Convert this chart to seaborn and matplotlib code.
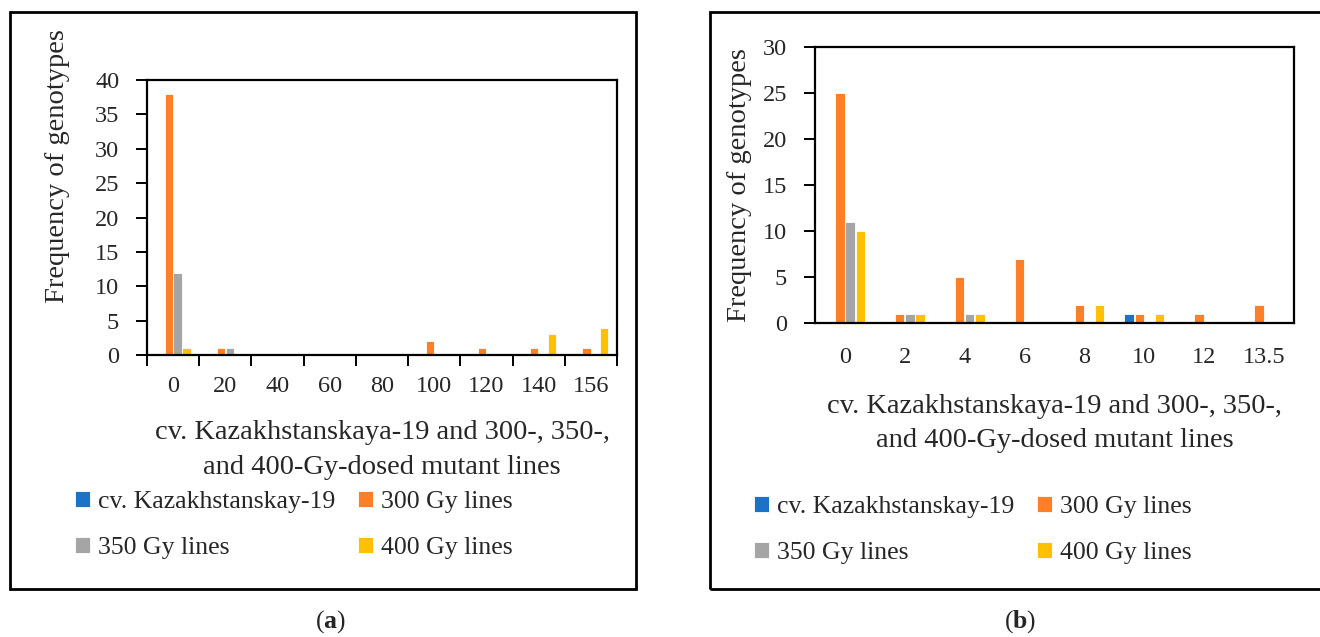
import numpy as np
import pandas as pd
import matplotlib
matplotlib.use("Agg")
import matplotlib.pyplot as plt
from matplotlib.patches import Rectangle
import seaborn as sns

# ---------------- data ----------------
series_names = ["cv. Kazakhstanskay-19", "300 Gy lines", "350 Gy lines", "400 Gy lines"]
colors = ["#1B72C6", "#FF7F27", "#A5A5A5", "#FFC000"]

cats_a = ["0", "20", "40", "60", "80", "100", "120", "140", "156"]
a_cv = [0, 0, 0, 0, 0, 0, 0, 0, 0]
a_300 = [38, 1, 0, 0, 0, 2, 1, 1, 1]
a_350 = [12, 1, 0, 0, 0, 0, 0, 0, 0]
a_400 = [1, 0, 0, 0, 0, 0, 0, 3, 4]

cats_b = ["0", "2", "4", "6", "8", "10", "12", "13.5"]
b_cv = [0, 0, 0, 0, 0, 1, 0, 0]
b_300 = [25, 1, 5, 7, 2, 1, 1, 2]
b_350 = [11, 1, 1, 0, 0, 0, 0, 0]
b_400 = [10, 1, 1, 0, 2, 1, 0, 0]

xlabel = "cv. Kazakhstanskaya-19 and 300-, 350-,\nand 400-Gy-dosed mutant lines"
ylabel = "Frequency of genotypes"


def long_df(cats, *series):
    rows = []
    for name, vals in zip(series_names, series):
        for c, v in zip(cats, vals):
            rows.append({"cat": c, "series": name, "value": v})
    return pd.DataFrame(rows)


df_a = long_df(cats_a, a_cv, a_300, a_350, a_400)
df_b = long_df(cats_b, b_cv, b_300, b_350, b_400)

# ---------------- style ----------------
sns.set_style("white")
plt.rcParams["font.family"] = ["Liberation Serif", "DejaVu Serif"]
plt.rcParams["mathtext.fontset"] = "custom"
plt.rcParams["mathtext.rm"] = "Liberation Serif"
plt.rcParams["mathtext.bf"] = "Liberation Serif:bold"
TICK_FS = 17.5
LAB_FS = 20.5
LEG_FS = 18.5

W, H = 1320, 637
fig = plt.figure(figsize=(W / 100, H / 100), dpi=100)
fig.patch.set_facecolor("white")


def px_axes(left, top, right, bottom):
    return fig.add_axes([left / W, 1 - bottom / H, (right - left) / W, (bottom - top) / H])


# outer panel frames
for x0, x1 in [(10, 636), (710, 1335)]:
    fig.patches.append(Rectangle((x0 / W, 1 - 589 / H), (x1 - x0) / W, (589 - 12) / H,
                                 transform=fig.transFigure, fill=False,
                                 edgecolor="black", linewidth=2.0, zorder=0))

palette = dict(zip(series_names, colors))


def draw(ax, df, cats, ymax, boundary_ticks, tickpad, labelpad):
    sns.barplot(data=df, x="cat", y="value", hue="series", order=cats,
                hue_order=series_names, palette=palette, saturation=1,
                width=0.68, gap=0.08, errorbar=None, edgecolor="white",
                linewidth=0.6, ax=ax, legend=True)
    ax.set_xlim(-0.5, len(cats) - 0.5)
    ax.set_ylim(0, ymax)
    ax.set_yticks(np.arange(0, ymax + 1, 5))
    for s in ax.spines.values():
        s.set_visible(True)
        s.set_color("black")
        s.set_linewidth(1.6)
    ax.tick_params(axis="y", which="major", direction="out", length=8, width=1.4,
                   color="black", labelsize=TICK_FS, pad=12, left=True)
    ax.tick_params(axis="x", which="major", length=0, labelsize=TICK_FS, pad=tickpad)
    if boundary_ticks:
        ax.set_xticks(np.arange(-0.5, len(cats), 1.0), minor=True)
        ax.tick_params(axis="x", which="minor", direction="out", length=8, width=1.4,
                       color="black", bottom=True)
    ax.set_xlabel(xlabel, fontsize=LAB_FS, linespacing=1.48, labelpad=labelpad)
    h, l = ax.get_legend_handles_labels()
    ax.get_legend().remove()
    return h, l


ax_a = px_axes(147, 80, 617, 355)
h, l = draw(ax_a, df_a, cats_a, 40, True, 15, 17)
ax_a.set_ylabel(ylabel, fontsize=LAB_FS, va="center")
ax_a.yaxis.set_label_coords((57 - 147) / 470, (355 - 166) / 275)

ax_b = px_axes(815, 47, 1294, 323)
draw(ax_b, df_b, cats_b, 30, False, 17, 19)
ax_b.set_ylabel(ylabel, fontsize=LAB_FS, va="center")
ax_b.yaxis.set_label_coords((740 - 815) / 479, 0.5)

order = [0, 2, 1, 3]
hh = [h[i] for i in order]
ll = [l[i] for i in order]
for x_anchor, y_anchor in [(75, 491), (754, 496)]:
    fig.legend(hh, ll, loc="upper left", bbox_to_anchor=(x_anchor / W, 1 - y_anchor / H),
               bbox_transform=fig.transFigure, ncol=2, frameon=False, fontsize=LEG_FS,
               handlelength=0.58, handleheight=0.55, handletextpad=0.3,
               columnspacing=0.9, labelspacing=0.94, borderpad=0, borderaxespad=0)

fig.text(330 / W, 1 - 622 / H, r"($\mathbf{a}$)", ha="center", va="center", fontsize=LEG_FS)
fig.text(1020 / W, 1 - 622 / H, r"($\mathbf{b}$)", ha="center", va="center", fontsize=LEG_FS)

fig.savefig("out.png", dpi=100, facecolor="white")
